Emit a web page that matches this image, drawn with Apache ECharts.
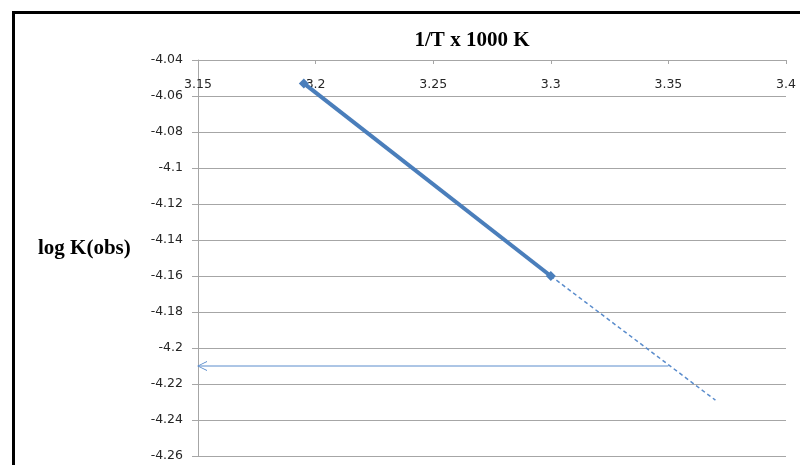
<!DOCTYPE html>
<html>
<head>
<meta charset="utf-8">
<script src="https://cdn.jsdelivr.net/npm/echarts@6/dist/echarts.min.js"></script>
<style>
  html, body { margin: 0; padding: 0; background: #fff; }
  #chart { width: 800px; height: 465px; }
</style>
</head>
<body>
<div id="chart"></div>
<script>
// Measured points: 1/T x 1000 vs log K(obs)
const invT = [3.195, 3.30];
const logK = [-4.053, -4.160];

// Extrapolated trend beyond the last measurement
const trendX = [3.30, 3.37];
const trendY = [-4.160, -4.229];

// Horizontal read-off from the trend line to the log K axis
const readX = [3.35, 3.15];
const readY = [-4.21, -4.21];

// Axis ranges and steps
const xRange = [3.15, 3.40];
const xStep = 0.05;
const yRange = [-4.26, -4.04];
const yStep = 0.02;

const pairs = (xs, ys) => xs.map((x, i) => [x, ys[i]]);
const fmt = v => String(parseFloat(v.toFixed(2)));

const chart = echarts.init(document.getElementById('chart'), null, { renderer: 'canvas' });

const gridColor = '#a6a6a6';
const labelColor = '#262626';
const labelFont = 'DejaVu Sans, Liberation Sans, sans-serif';

chart.setOption({
  animation: false,
  backgroundColor: '#ffffff',
  title: [
    {
      text: '1/T x 1000 K',
      left: 467, top: 25, textAlign: 'center',
      textStyle: { fontFamily: 'Liberation Serif, serif', fontWeight: 'bold', fontSize: 21, color: '#000' }
    },
    {
      text: 'log K(obs)',
      left: 33, top: 233,
      textStyle: { fontFamily: 'Liberation Serif, serif', fontWeight: 'bold', fontSize: 21, color: '#000' }
    }
  ],
  graphic: [
    {
      type: 'rect', silent: true, z: 100,
      shape: { x: 13.5, y: 12.5, width: 800, height: 500 },
      style: { fill: 'none', stroke: '#000', lineWidth: 3 }
    }
  ],
  grid: { left: 198, top: 60, right: 14, bottom: 9, containLabel: false },
  xAxis: {
    type: 'value',
    position: 'top',
    min: xRange[0], max: xRange[1], interval: xStep,
    axisLine: { show: true, onZero: false, lineStyle: { color: gridColor, width: 1 } },
    axisTick: { show: true, inside: true, length: 4, lineStyle: { color: gridColor } },
    axisLabel: {
      inside: true, margin: 18, formatter: fmt,
      color: labelColor, fontFamily: labelFont, fontSize: 12.5
    },
    splitLine: { show: false }
  },
  yAxis: {
    type: 'value',
    min: yRange[0], max: yRange[1], interval: yStep,
    axisLine: { show: true, onZero: false, lineStyle: { color: gridColor, width: 1 } },
    axisTick: { show: true, inside: false, length: 6, lineStyle: { color: gridColor } },
    axisLabel: {
      margin: 15, formatter: fmt,
      color: labelColor, fontFamily: labelFont, fontSize: 12.5
    },
    splitLine: { show: true, lineStyle: { color: gridColor, width: 1 } }
  },
  series: [
    {
      name: 'trend',
      type: 'line',
      data: pairs(trendX, trendY),
      symbol: 'none',
      lineStyle: { color: '#5a8ccc', width: 1.5, type: [4, 3] },
      z: 2
    },
    {
      name: 'read-off',
      type: 'line',
      data: pairs(readX, readY).map((p, i) => (
        i === readX.length - 1
          ? { value: p, symbol: 'path://M10,0 L0,5 L10,10 L10,9 L1.6,5 L10,1 Z', symbolSize: [10, 10], symbolOffset: [4, 0] }
          : { value: p, symbol: 'none' }
      )),
      showSymbol: true,
      symbolKeepAspect: true,
      itemStyle: { color: '#5a8ccc' },
      lineStyle: { color: '#5a8ccc', width: 1 },
      clip: false,
      z: 3
    },
    {
      name: 'log K(obs)',
      type: 'line',
      data: pairs(invT, logK),
      symbol: 'diamond',
      symbolSize: 10,
      itemStyle: { color: '#4a7ebb' },
      lineStyle: { color: '#4a7ebb', width: 4 },
      clip: false,
      z: 4
    }
  ]
});
</script>
</body>
</html>
